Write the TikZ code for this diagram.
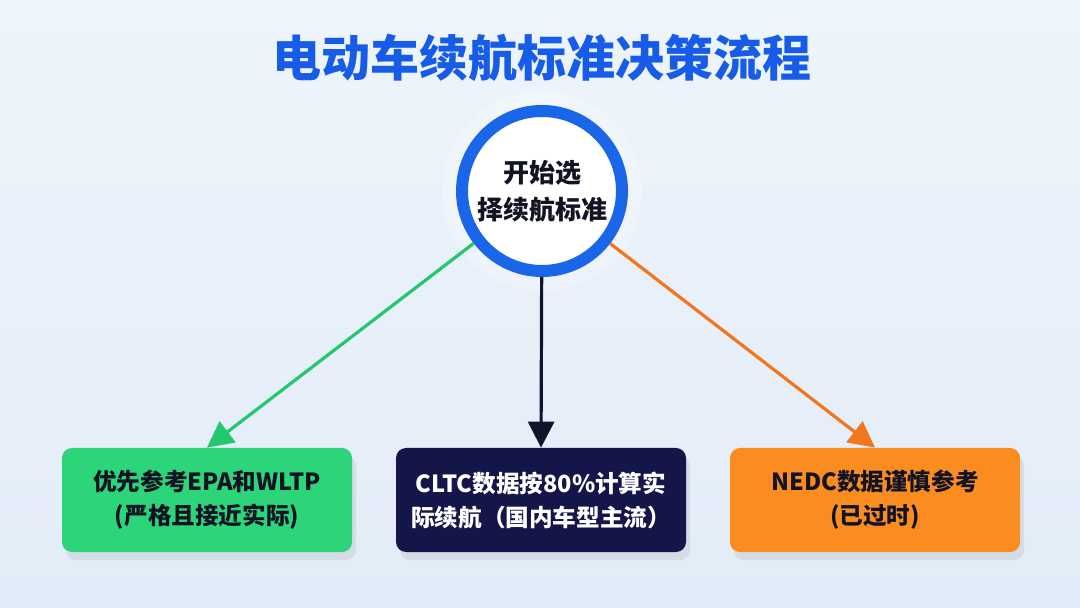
\documentclass[tikz,border=0pt]{standalone}
\usepackage{fontspec}
\setmainfont{Noto Sans CJK SC}
\usepackage{xcolor}
\usepackage{tikz}
\usetikzlibrary{
  positioning,
  arrows.meta,
  shadows
}
\definecolor{TitleBlue}{RGB}{22,92,232}
\definecolor{RingBlue}{RGB}{26,102,232}
\definecolor{BoxGreen}{RGB}{44,212,122}
\definecolor{BoxNavy}{RGB}{20,22,74}
\definecolor{BoxOrange}{RGB}{250,140,32}
\definecolor{LineGreen}{RGB}{36,200,108}
\definecolor{LineNavy}{RGB}{18,20,44}
\definecolor{LineOrange}{RGB}{242,118,30}
\definecolor{TextDark}{RGB}{18,20,36}
\definecolor{BgTop}{RGB}{238,244,251}
\definecolor{BgBottom}{RGB}{226,236,248}

\begin{document}
\begin{tikzpicture}[
  x=0.5pt, y=-0.5pt,
  font=\bfseries,
  startnode/.style={
    circle,
    draw=RingBlue,
    line width=6pt,
    fill=white,
    minimum size=80pt,
    inner sep=0pt,
    align=center,
    text=TextDark,
    font=\bfseries\fontsize{13}{18.5}\selectfont,
  },
  optbox/.style={
    rounded corners=5pt,
    minimum width=145pt,
    minimum height=52pt,
    inner sep=0pt,
    align=center,
    text=TextDark,
    font=\bfseries\fontsize{11.8}{17}\selectfont,
    drop shadow={opacity=0.15, shadow xshift=2pt, shadow yshift=-4pt},
  },
  arr/.style={-{Triangle[length=13pt, width=13pt]}, line width=1.6pt},
]
  % -------- 背景 --------
  \fill[top color=BgTop, bottom color=BgBottom] (0,0) rectangle (1080,608);
  \useasboundingbox (0,0) rectangle (1080,608);

  % -------- 标题与起点 --------
  \node[font=\bfseries\fontsize{24.5}{30}\selectfont, text=TitleBlue] (title) at (542,58) {电动车续航标准决策流程};
  \fill[white, opacity=0.25] (542,191) circle (100);
  \node[startnode] (start) at (542,191) {开始选\\择续航标准};

  % -------- 三个结论 --------
  \node[optbox, fill=BoxGreen] (epa) at (207,500) {优先参考EPA和WLTP\\(严格且接近实际)};
  \node[optbox, fill=BoxNavy, text=white] (cltc) at (541,500) {CLTC数据按80\%计算实\\际续航（国内车型主流）};
  \node[optbox, fill=BoxOrange] (nedc) at (875,500) {NEDC数据谨慎参考\\(已过时)};

  % -------- 箭头 --------
  \draw[arr, LineGreen] (start) -- (epa.north);
  \draw[arr, LineNavy] (start) -- (cltc.north);
  \draw[arr, LineOrange] (start) -- (nedc.north);
\end{tikzpicture}
\end{document}
